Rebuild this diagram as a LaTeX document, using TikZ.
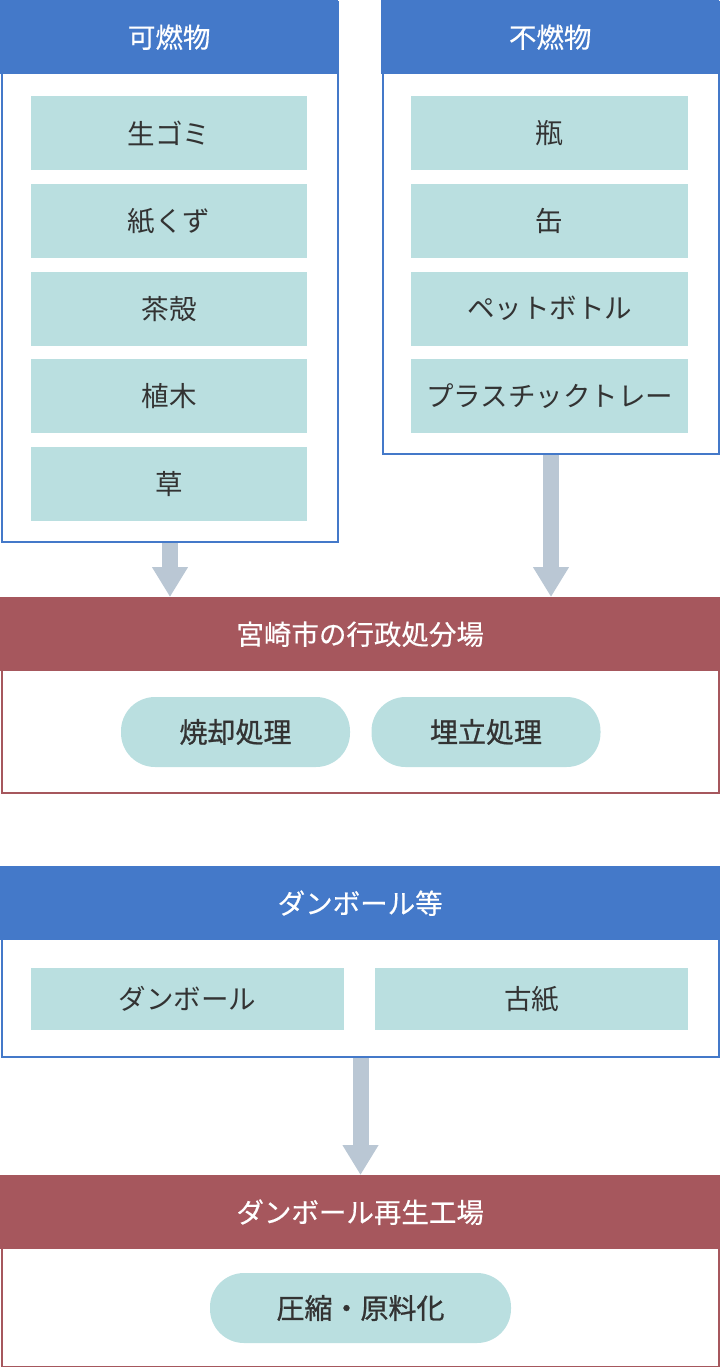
\documentclass[tikz,border=0pt]{standalone}
\usepackage{fontspec}
\setmainfont{Noto Sans CJK JP}
\newfontfamily\medjp{Noto Sans CJK JP}[FakeBold=0.4]
\newfontfamily\pilljp{Noto Sans CJK JP}[FakeBold=0.9]
\usetikzlibrary{arrows.meta,positioning}

\definecolor{hdblue}{HTML}{4479C9}
\definecolor{hdred}{HTML}{A6575D}
\definecolor{itemfill}{HTML}{BADFE0}
\definecolor{flowgray}{HTML}{BAC7D4}
\definecolor{txt}{HTML}{333333}

\tikzset{
  head/.style={fill=#1, text=white, anchor=north west, inner sep=0pt,
    minimum height=74pt, font=\medjp\fontsize{27.5}{30}\selectfont},
  frame/.style={draw=#1, line width=2pt, anchor=north west, inner sep=0pt},
  item/.style={fill=itemfill, text=txt, anchor=north west, inner sep=0pt,
    minimum height=74pt, font=\fontsize{27.5}{30}\selectfont},
  pill/.style={fill=itemfill, text=txt, inner sep=0pt, rounded corners=34pt,
    minimum height=70pt, font=\pilljp\fontsize{28}{30}\selectfont},
  flow/.style={draw=flowgray, line width=16pt,
    -{Triangle[width=34pt,length=30pt]}}
}

\begin{document}
\begin{tikzpicture}[x=1pt,y=-1pt]
  \useasboundingbox (0,0) rectangle (720,1367);

  % burnable / non-burnable
  \node[frame=hdblue, minimum width=336pt, minimum height=540pt] (kanen) at (1,1) {};
  \node[head=hdblue, minimum width=338pt] (kanen-h) at (0,0) {可燃物};
  \foreach \t [count=\i] in {生ゴミ,紙くず,茶殻,植木,草}
    \node[item, minimum width=276pt] (kanen-\i) at (31,{96+87.75*(\i-1)}) {\t};

  \node[frame=hdblue, minimum width=336pt, minimum height=452pt] (funen) at (382,1) {};
  \node[head=hdblue, minimum width=338pt] (funen-h) at (381,0) {不燃物};
  \foreach \t [count=\i] in {瓶,缶,ペットボトル,プラスチックトレー}
    \node[item, minimum width=277pt] (funen-\i) at (411,{96+87.75*(\i-1)}) {\t};

  % city disposal site
  \node[frame=hdred, minimum width=717pt, minimum height=195pt] (gyosei) at (1,597) {};
  \node[head=hdred, minimum width=720pt] (gyosei-h) at (0,597) {宮崎市の行政処分場};
  \node[pill, minimum width=229pt] (shokyaku) at (235.5,732) {焼却処理};
  \node[pill, minimum width=229pt] (umetate) at (486,732) {埋立処理};

  \draw[flow] (kanen.south) -- (kanen.south |- gyosei-h.north);
  \draw[flow] (funen.south) -- (funen.south |- gyosei-h.north);

  % cardboard
  \node[frame=hdblue, minimum width=717pt, minimum height=190pt] (danbo) at (1,866) {};
  \node[head=hdblue, minimum width=720pt] (danbo-h) at (0,866) {ダンボール等};
  \node[item, minimum width=313pt, minimum height=62pt] (danbo-1) at (31,968) {ダンボール};
  \node[item, minimum width=313pt, minimum height=62pt] (danbo-2) at (375,968) {古紙};

  % recycling plant
  \node[frame=hdred, minimum width=717pt, minimum height=191pt] (kojo) at (1,1175) {};
  \node[head=hdred, minimum width=720pt] (kojo-h) at (0,1175) {ダンボール再生工場};
  \node[pill, minimum width=301pt] (asshuku) at (360.5,1308) {圧縮・原料化};

  \draw[flow] (danbo.south) -- (danbo.south |- kojo-h.north);
\end{tikzpicture}
\end{document}
